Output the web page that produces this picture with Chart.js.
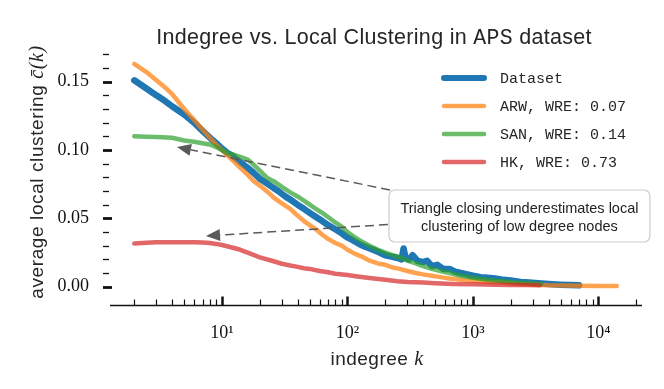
<!DOCTYPE html>
<html>
<head>
<meta charset="utf-8">
<script src="https://cdn.jsdelivr.net/npm/chart.js@4.4.1/dist/chart.umd.min.js"></script>
<style>
  body { margin: 0; background: #fff; }
  canvas { display: block; }
</style>
</head>
<body>
<canvas id="chart" width="664" height="389"></canvas>
<script>
// Indegree k and average local clustering, one pair of arrays per series
const blueK = [2,2.5,3,3.5,4,5,6,7,8,9,10,11,12,14,16,18,20,22,25,28,32,36,40,45,50,56,63,70,80,90,100,110,125,140,160,180,200,225,250,270,280,290,310,330,360,400,430,470,520,580,650,720,800,900,1000,1150,1300,1500,1750,2000,2400,2800,3300,4000,5000,6000,7000];
const blueC = [0.151,0.145,0.140,0.136,0.132,0.126,0.120,0.114,0.109,0.105,0.101,0.098,0.096,0.091,0.087,0.083,0.079,0.0765,0.073,0.070,0.066,0.063,0.060,0.057,0.054,0.051,0.048,0.045,0.042,0.039,0.036,0.034,0.031,0.029,0.027,0.025,0.023,0.022,0.021,0.020,0.028,0.021,0.020,0.023,0.019,0.018,0.019,0.015,0.016,0.013,0.013,0.011,0.010,0.009,0.008,0.007,0.0065,0.006,0.005,0.0045,0.0035,0.003,0.0025,0.002,0.0015,0.0012,0.001];

const arwK = [2,2.5,3,3.5,4,5,6,7,8,9,10,12,14,16,18,20,23,26,30,35,40,45,50,56,63,70,80,90,100,115,130,150,175,200,230,260,300,350,400,470,550,650,800,1000,1300,1700,2200,3000,4000,5500,7000,10000,14000];
const arwC = [0.163,0.157,0.151,0.146,0.141,0.130,0.122,0.115,0.109,0.104,0.100,0.093,0.087,0.082,0.077,0.074,0.0695,0.065,0.061,0.057,0.052,0.048,0.045,0.042,0.038,0.035,0.032,0.030,0.027,0.024,0.022,0.019,0.017,0.016,0.014,0.013,0.0115,0.010,0.009,0.008,0.007,0.006,0.005,0.0045,0.0035,0.003,0.002,0.0015,0.001,0.0008,0.0006,0.0005,0.0005];

const sanK = [2,2.5,3,4,5,6,7,8,9,10,11,12,14,16,18,20,23,26,30,35,40,45,50,56,63,70,80,90,100,115,130,150,175,200,230,270,300,350,400,470,550,650,800,1000,1300,1700,2200,2800,3500];
const sanC = [0.110,0.1097,0.1095,0.109,0.107,0.106,0.105,0.104,0.102,0.100,0.098,0.097,0.095,0.093,0.089,0.085,0.0795,0.077,0.073,0.069,0.066,0.063,0.060,0.057,0.054,0.051,0.047,0.044,0.040,0.036,0.033,0.030,0.027,0.025,0.023,0.021,0.019,0.017,0.015,0.013,0.0115,0.010,0.008,0.0066,0.005,0.004,0.003,0.0025,0.002];

const hkK = [2,2.5,3,4,5,6,7,8,9,10,12,14,17,20,25,30,35,40,45,50,60,70,80,100,120,150,200,250,300,400,500,700,1000,1500,2000,2700,3400];
const hkC = [0.0316,0.0322,0.0325,0.0326,0.0326,0.0325,0.0323,0.032,0.0313,0.0305,0.0287,0.027,0.024,0.0215,0.019,0.0168,0.0155,0.0145,0.0135,0.013,0.0115,0.0105,0.0095,0.0085,0.0075,0.0063,0.005,0.004,0.0035,0.003,0.0025,0.002,0.0018,0.0015,0.0013,0.0012,0.001];

const seriesLabels = ['Dataset', 'ARW, WRE: 0.07', 'SAN, WRE: 0.14', 'HK, WRE: 0.73'];

// tick positions and labels
const xTickVals = [2,3,4,5,6,7,8,9,10,20,30,40,50,60,70,80,90,100,200,300,400,500,600,700,800,900,1000,2000,3000,4000,5000,6000,7000,8000,9000,10000,20000];
const xTickLabels = { 10: '10\u00b9', 100: '10\u00b2', 1000: '10\u00b3', 10000: '10\u2074' };
const yTickVals = [0,0.01,0.02,0.03,0.04,0.05,0.06,0.07,0.08,0.09,0.10,0.11,0.12,0.13,0.14,0.15,0.16,0.17];
const yTickLabels = { 0: '0.00', 0.05: '0.05', 0.1: '0.10', 0.15: '0.15' };

const annotationText = ['Triangle closing underestimates local', 'clustering of low degree nodes'];
// arrow tips and tails, in data units [k, c]
const arrowTips = [[4.38, 0.1022], [7.46, 0.0371]];
const arrowTails = [[218, 0.0708], [210, 0.0455]];
const boxCenter = [2345, 0.0517];

const SANS = '"Liberation Sans", Arial, sans-serif';
const SERIF = '"Liberation Serif", "DejaVu Serif", serif';
const MONO = '"Liberation Mono", "DejaVu Sans Mono", monospace';

function pts(ks, cs) {
    return ks.map((k, i) => ({ x: k, y: cs[i] }));
}

const colors = ['#1f77b4', 'rgba(255,127,14,0.72)', 'rgba(44,160,44,0.7)', 'rgba(214,39,40,0.7)'];
const widths = [6.5, 4.5, 4.5, 4.5];

const datasets = [
    pts(blueK, blueC), pts(arwK, arwC), pts(sanK, sanC), pts(hkK, hkC)
].map((d, i) => ({
    label: seriesLabels[i],
    data: d,
    borderColor: colors[i],
    borderWidth: widths[i],
    pointRadius: 0,
    borderCapStyle: 'round',
    borderJoinStyle: 'round',
    tension: 0,
    order: 4 - i
}));

// draws two text parts side by side, second one in another font
function twoPart(ctx, a, fa, b, fb, cx, y, spacing) {
    ctx.letterSpacing = spacing + 'px';
    ctx.font = fa;
    const wa = ctx.measureText(a).width;
    ctx.font = fb;
    const wb = ctx.measureText(b).width;
    const x = cx - (wa + wb) / 2;
    ctx.font = fa; ctx.fillText(a, x, y);
    ctx.font = fb; ctx.fillText(b, x + wa, y);
    ctx.letterSpacing = '0px';
}

// spine, ticks, title, axis titles, legend, annotation
const decorPlugin = {
    id: 'decor',
    afterDraw(chart) {
        const ctx = chart.ctx;
        const xs = chart.scales.x, ys = chart.scales.y;
        const area = chart.chartArea;
        ctx.save();

        // x spine
        const spineY = area.bottom + 0.5;
        ctx.strokeStyle = '#111';
        ctx.lineWidth = 1.5;
        ctx.beginPath();
        ctx.moveTo(area.left + 7, spineY);
        ctx.lineTo(area.right + 1, spineY);
        ctx.stroke();

        // x ticks (inward)
        xs.ticks.forEach(t => {
            const major = Math.abs(Math.log10(t.value) % 1) < 1e-9;
            const px = Math.round(xs.getPixelForValue(t.value)) + 0.5;
            ctx.lineWidth = major ? 2.5 : 1.2;
            ctx.beginPath();
            ctx.moveTo(px, spineY);
            ctx.lineTo(px, spineY - (major ? 9 : 6));
            ctx.stroke();
        });

        // y ticks
        ys.ticks.forEach(t => {
            const major = Math.abs(Math.round(t.value * 100) % 5) === 0;
            const py = Math.round(ys.getPixelForValue(t.value)) + 0.5;
            ctx.lineWidth = major ? 2.8 : 1.3;
            ctx.beginPath();
            ctx.moveTo(area.left, py);
            ctx.lineTo(area.left + (major ? 9 : 6), py);
            ctx.stroke();
        });

        // title
        ctx.fillStyle = '#262626';
        ctx.textBaseline = 'alphabetic';
        ctx.textAlign = 'left';
        const t1 = 'Indegree vs. Local Clustering in ', t2 = 'APS', t3 = ' dataset';
        const fSans = '21.5px ' + SANS, fMono = '21.5px ' + MONO;
        ctx.letterSpacing = '0.3px';
        ctx.font = fSans;
        const w1 = ctx.measureText(t1).width, w3 = ctx.measureText(t3).width;
        ctx.font = fMono;
        const w2 = ctx.measureText(t2).width;
        let tx = 374 - (w1 + w2 + w3) / 2;
        ctx.font = fSans; ctx.fillText(t1, tx, 44); tx += w1;
        ctx.font = fMono; ctx.fillText(t2, tx, 44); tx += w2;
        ctx.font = fSans; ctx.fillText(t3, tx, 44);
        ctx.letterSpacing = '0px';

        // x axis title
        twoPart(ctx, 'indegree ', '19px ' + SANS, 'k', 'italic 20px ' + SERIF, 377, 365, 0.5);

        // y axis title (rotated)
        ctx.save();
        ctx.translate(43, 172);
        ctx.rotate(-Math.PI / 2);
        twoPart(ctx, 'average local clustering ', '19px ' + SANS, 'c\u0304(k)', 'italic 20px ' + SERIF, 0, 0, 0.6);
        ctx.restore();

        // legend
        const legY = [78, 106, 134, 162];
        ctx.font = '15px ' + MONO;
        ctx.textBaseline = 'middle';
        chart.data.datasets.forEach((ds, i) => {
            ctx.strokeStyle = ds.borderColor;
            ctx.lineWidth = i === 0 ? 6 : 4.5;
            ctx.lineCap = 'round';
            ctx.beginPath();
            ctx.moveTo(444, legY[i]);
            ctx.lineTo(484, legY[i]);
            ctx.stroke();
            ctx.fillStyle = '#262626';
            ctx.fillText(ds.label, 500, legY[i] + 1);
        });

        // arrows
        ctx.lineCap = 'butt';
        arrowTips.forEach((tip, i) => {
            const tail = arrowTails[i];
            const x0 = xs.getPixelForValue(tail[0]), y0 = ys.getPixelForValue(tail[1]);
            const x1 = xs.getPixelForValue(tip[0]), y1 = ys.getPixelForValue(tip[1]);
            const ang = Math.atan2(y1 - y0, x1 - x0);
            const hl = 14, hw = 6;
            const bx = x1 - hl * Math.cos(ang), by = y1 - hl * Math.sin(ang);
            ctx.strokeStyle = '#5a5a5a';
            ctx.lineWidth = 1.5;
            ctx.setLineDash([9, 5]);
            ctx.beginPath();
            ctx.moveTo(x0, y0);
            ctx.lineTo(bx, by);
            ctx.stroke();
            ctx.setLineDash([]);
            ctx.fillStyle = '#5a5a5a';
            ctx.beginPath();
            ctx.moveTo(x1, y1);
            ctx.lineTo(bx + hw * Math.sin(ang), by - hw * Math.cos(ang));
            ctx.lineTo(bx - hw * Math.sin(ang), by + hw * Math.cos(ang));
            ctx.closePath();
            ctx.fill();
        });

        // annotation box
        const cx = xs.getPixelForValue(boxCenter[0]), cy = ys.getPixelForValue(boxCenter[1]);
        const bw = 261, bh = 52;
        ctx.beginPath();
        ctx.roundRect(cx - bw / 2, cy - bh / 2, bw, bh, 6);
        ctx.fillStyle = '#fff';
        ctx.fill();
        ctx.strokeStyle = '#cccccc';
        ctx.lineWidth = 1.2;
        ctx.stroke();
        ctx.fillStyle = '#222';
        ctx.font = '14.5px ' + SANS;
        ctx.textAlign = 'center';
        ctx.textBaseline = 'alphabetic';
        ctx.fillText(annotationText[0], cx, cy - 3);
        ctx.fillText(annotationText[1], cx, cy + 15);

        ctx.restore();
    }
};

new Chart(document.getElementById('chart'), {
    type: 'line',
    data: { datasets },
    options: {
        responsive: false,
        animation: false,
        layout: { padding: { top: 47.5, right: 23, left: 0, bottom: 0 } },
        plugins: { legend: { display: false }, tooltip: { enabled: false } },
        scales: {
            x: {
                type: 'logarithmic',
                min: 1.127,
                max: 21810,
                grid: { display: false, drawTicks: false },
                border: { display: false },
                afterBuildTicks: s => { s.ticks = xTickVals.map(v => ({ value: v })); },
                afterFit: s => { s.height = 84; s.paddingLeft = 0; s.paddingRight = 0; },
                ticks: {
                    autoSkip: false,
                    maxRotation: 0,
                    padding: 17,
                    color: '#111',
                    font: { family: SERIF, size: 18 },
                    callback: v => xTickLabels[v] || ''
                }
            },
            y: {
                min: -0.0134,
                max: 0.175,
                grid: { display: false, drawTicks: false },
                border: { display: false },
                afterBuildTicks: s => { s.ticks = yTickVals.map(v => ({ value: v })); },
                afterFit: s => { s.width = 103; s.paddingTop = 0; s.paddingBottom = 0; },
                ticks: {
                    autoSkip: false,
                    padding: 14,
                    color: '#111',
                    font: { family: SERIF, size: 18 },
                    callback: v => {
                        const key = Math.round(v * 100) / 100;
                        return yTickLabels[key] || '';
                    }
                }
            }
        }
    },
    plugins: [decorPlugin]
});
</script>
</body>
</html>
